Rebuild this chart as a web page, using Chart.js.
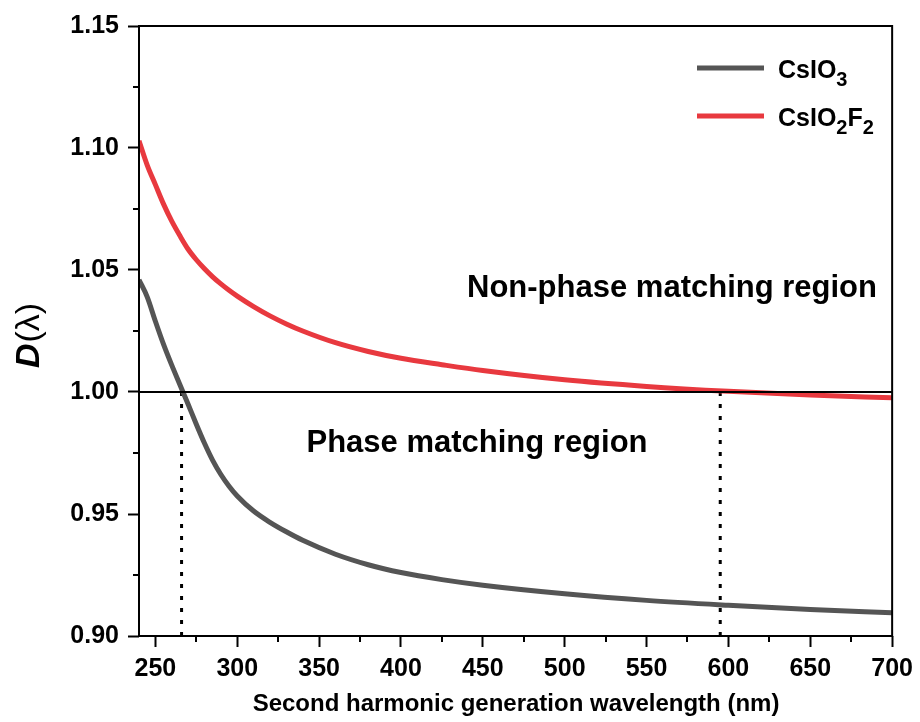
<!DOCTYPE html>
<html lang="en">
<head>
<meta charset="UTF-8">
<title>D(lambda) vs SHG wavelength</title>
<script src="https://cdn.jsdelivr.net/npm/chart.js"></script>
<style>
    body { margin: 0; background: #fff; }
    canvas { display: block; }
</style>
</head>
<body>
<canvas id="myChart" width="920" height="722"></canvas>
<script>
// wavelengths (nm)
var wavelengths = [240, 245, 250, 255, 260, 265, 270, 275, 280, 285, 290, 295, 300, 310, 320, 330, 340, 360, 380, 400, 425, 450, 500, 550, 600, 650, 700];
// D(lambda) for CsIO3
var csio3 = [1.046, 1.039, 1.029, 1.0195, 1.011, 1.003, 0.995, 0.9868, 0.979, 0.972, 0.9662, 0.9614, 0.9574, 0.9512, 0.9466, 0.9427, 0.9392, 0.9335, 0.9292, 0.9260, 0.9231, 0.9208, 0.9173, 0.9146, 0.9126, 0.9109, 0.9095];
// D(lambda) for CsIO2F2
var csio2f2 = [1.103, 1.093, 1.085, 1.077, 1.070, 1.064, 1.0585, 1.0542, 1.0505, 1.0472, 1.0443, 1.0417, 1.0393, 1.0350, 1.0312, 1.0279, 1.0250, 1.0202, 1.0166, 1.0138, 1.0112, 1.0088, 1.0050, 1.0023, 1.0003, 0.9988, 0.9976];
// phase matching cut-off wavelengths
var cutoffs = [266, 595];
var xTicks = [250, 300, 350, 400, 450, 500, 550, 600, 650, 700];
var yTicks = [0.90, 0.95, 1.00, 1.05, 1.10, 1.15];

var FONT = '"Liberation Sans", Arial, sans-serif';

function toPoints(xs, ys) {
    var pts = [];
    for (var i = 0; i < xs.length; i++) pts.push({ x: xs[i], y: ys[i] });
    return pts;
}

var datasets = [
    { label: 'unity', data: [{ x: 240, y: 1.0 }, { x: 700, y: 1.0 }], borderColor: '#000', borderWidth: 2, pointRadius: 0 },
    { label: 'CsIO3', data: toPoints(wavelengths, csio3), borderColor: '#555555', borderWidth: 5, pointRadius: 0, cubicInterpolationMode: 'monotone' },
    { label: 'CsIO2F2', data: toPoints(wavelengths, csio2f2), borderColor: '#e8393f', borderWidth: 5, pointRadius: 0, cubicInterpolationMode: 'monotone' }
];
cutoffs.forEach(function (c) {
    datasets.push({ label: 'cut', data: [{ x: c, y: 1.0 }, { x: c, y: 0.90 }], borderColor: '#000', borderWidth: 3, borderDash: [4, 8], pointRadius: 0 });
});

// draws frame, minor ticks, legend, labels
var decorPlugin = {
    id: 'decor',
    beforeDraw: function (chart) {
        var ctx = chart.ctx;
        ctx.save();
        ctx.fillStyle = '#fff';
        ctx.fillRect(0, 0, chart.width, chart.height);
        ctx.restore();
    },
    afterDraw: function (chart) {
        var ctx = chart.ctx;
        var a = chart.chartArea;
        var xs = chart.scales.x, ys = chart.scales.y;
        ctx.save();
        ctx.strokeStyle = '#000';
        ctx.lineWidth = 2;
        ctx.strokeRect(a.left, a.top, a.right - a.left, a.bottom - a.top);

        // minor ticks
        ctx.beginPath();
        for (var v = 0.925; v < 1.15; v += 0.05) {
            var py = Math.round(ys.getPixelForValue(v));
            ctx.moveTo(a.left, py);
            ctx.lineTo(a.left - 6, py);
        }
        for (var w = 275; w < 700; w += 50) {
            var px = Math.round(xs.getPixelForValue(w));
            ctx.moveTo(px, a.bottom);
            ctx.lineTo(px, a.bottom + 6);
        }
        ctx.stroke();

        // legend
        var items = [
            { color: '#555555', parts: [['CsIO', 0], ['3', 1]] },
            { color: '#e8393f', parts: [['CsIO', 0], ['2', 1], ['F', 0], ['2', 1]] }
        ];
        items.forEach(function (it, i) {
            var y = 68 + i * 48;
            ctx.strokeStyle = it.color;
            ctx.lineWidth = 5;
            ctx.beginPath();
            ctx.moveTo(697, y);
            ctx.lineTo(764, y);
            ctx.stroke();
            var x = 778;
            ctx.fillStyle = '#000';
            ctx.textBaseline = 'alphabetic';
            ctx.textAlign = 'left';
            it.parts.forEach(function (p) {
                if (p[1]) {
                    ctx.font = 'bold 20px ' + FONT;
                    ctx.fillText(p[0], x, y + 18);
                } else {
                    ctx.font = 'bold 25px ' + FONT;
                    ctx.fillText(p[0], x, y + 10);
                }
                x += ctx.measureText(p[0]).width;
            });
        });

        // region labels
        ctx.fillStyle = '#000';
        ctx.textAlign = 'center';
        ctx.textBaseline = 'middle';
        ctx.font = 'bold 31px ' + FONT;
        ctx.fillText('Non-phase matching region', 672, 288);
        ctx.fillText('Phase matching region', 477, 443);

        // x title
        ctx.font = 'bold 24px ' + FONT;
        ctx.fillText('Second harmonic generation wavelength (nm)', 516, 704);

        // y title
        ctx.translate(30, 336);
        ctx.rotate(-Math.PI / 2);
        var d = 'D', rest = '(λ)';
        ctx.font = '34px ' + FONT;
        var wRest = ctx.measureText(rest).width;
        ctx.font = 'italic bold 34px ' + FONT;
        var wD = ctx.measureText(d).width;
        var start = -(wD + wRest) / 2;
        ctx.textAlign = 'left';
        ctx.fillText(d, start, 0);
        ctx.font = '34px ' + FONT;
        ctx.fillText(rest, start + wD + 1, 0);
        ctx.restore();
    }
};

var ctx = document.getElementById('myChart').getContext('2d');
new Chart(ctx, {
    type: 'line',
    data: { datasets: datasets },
    plugins: [decorPlugin],
    options: {
        responsive: false,
        animation: false,
        layout: { padding: { top: 26, right: 26, left: 0, bottom: 0 } },
        plugins: { legend: { display: false }, tooltip: { enabled: false } },
        scales: {
            x: {
                type: 'linear',
                min: 240,
                max: 700,
                afterBuildTicks: function (scale) {
                    scale.ticks = xTicks.map(function (v) { return { value: v }; });
                },
                afterFit: function (scale) { scale.height = 86; },
                grid: { drawOnChartArea: false, tickLength: 11, tickWidth: 2, tickColor: '#000' },
                border: { display: false },
                ticks: { color: '#000', font: { family: FONT, size: 25, weight: 'bold' }, padding: 7, maxRotation: 0 }
            },
            y: {
                min: 0.90,
                max: 1.15,
                afterBuildTicks: function (scale) {
                    scale.ticks = yTicks.map(function (v) { return { value: v }; });
                },
                afterFit: function (scale) { scale.width = 139; },
                grid: { drawOnChartArea: false, tickLength: 11, tickWidth: 2, tickColor: '#000' },
                border: { display: false },
                ticks: {
                    color: '#000', font: { family: FONT, size: 25, weight: 'bold' }, padding: 9,
                    callback: function (v) { return v.toFixed(2); }
                }
            }
        }
    }
});
</script>
</body>
</html>
